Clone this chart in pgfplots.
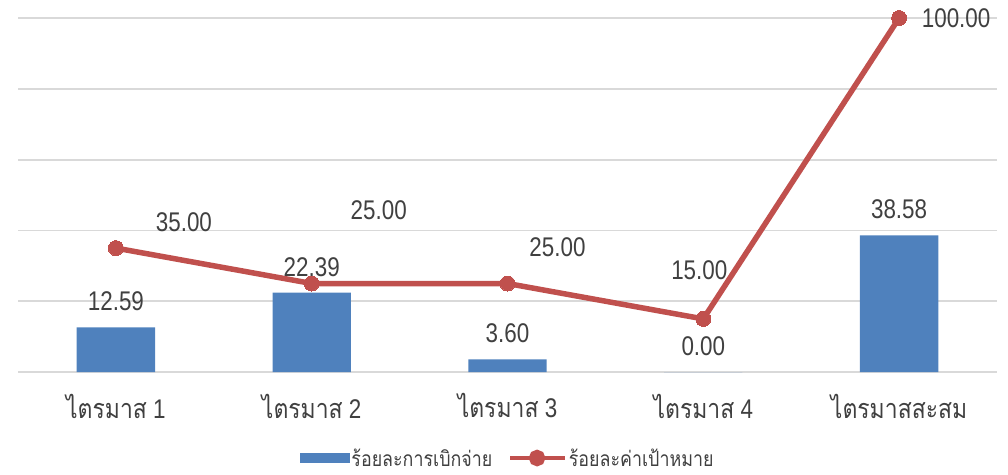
\documentclass[border=0pt]{standalone}
\usepackage{fontspec}
\setmainfont{Liberation Sans}[FakeStretch=0.83]
\newfontfamily\thaifont[Script=Thai,FakeStretch=0.85]{Loma}
\usepackage{pgfplots}
\pgfplotsset{compat=1.18}
\usepackage{pgfplotstable}
\definecolor{barblue}{HTML}{4F81BD}
\definecolor{linered}{HTML}{C0504D}
\definecolor{gridgray}{HTML}{D9D9D9}
\definecolor{txt}{HTML}{404040}
\newcommand{\numfont}{\fontsize{27}{30}\selectfont}
\pgfplotstableread{
x y
0 12.59
1 22.39
2 3.60
3 0.00
4 38.58
}\bartable
\pgfplotstableread{
x y dx dy
0 35 68 26
1 25 67 73
2 25 50 36
3 15 -4 49
4 100 57 0
}\linetable
\begin{document}
\begin{tikzpicture}
\begin{axis}[
  scale only axis, width=979pt, height=354pt,
  xmin=-0.5, xmax=4.5, ymin=0, ymax=100,
  ytick={0,20,...,100}, yticklabels={},
  ymajorgrids, grid style={gridgray, line width=1.8pt},
  axis line style={draw=none},
  major tick length=0pt,
  xtick={0,1,2,3,4},
  xticklabels={{\thaifont ไตรมาส} 1,{\thaifont ไตรมาส} 2,{\thaifont ไตรมาส} 3,{\thaifont ไตรมาส} 4,{\thaifont ไตรมาสสะสม}},
  xticklabel style={font=\numfont, text=txt, anchor=center, yshift=-34pt},
  clip=false,
  legend style={at={(0.5,-0.243)}, anchor=center, draw=none, fill=none,
    legend columns=2, font=\fontsize{21}{23}\selectfont\thaifont, text=txt,
    /tikz/every even column/.append style={column sep=14pt},
    nodes={inner sep=1.5pt}},
]
\addplot[ybar, bar width=0.4, fill=barblue, draw=none,
  nodes near coords={\pgfmathprintnumber[fixed,zerofill,precision=2,assume math mode=true]{\pgfplotspointmeta}},
  nodes near coords style={font=\numfont, text=txt, anchor=center, yshift=26pt},
  legend image code/.code={\fill[barblue] (0pt,-5pt) rectangle (50pt,5pt);}
] table[x=x,y=y] {\bartable};
\addlegendentry{ร้อยละการเบิกจ่าย}
\addplot[linered, line width=5.5pt, mark=*, mark size=7.5pt,
  mark options={fill=linered, draw=linered, line width=0pt},
  visualization depends on={\thisrow{dx} \as \dx},
  visualization depends on={\thisrow{dy} \as \dy},
  nodes near coords={\pgfmathprintnumber[fixed,zerofill,precision=2,assume math mode=true]{\pgfplotspointmeta}},
  nodes near coords style={font=\numfont, text=txt, anchor=center, xshift=\dx pt, yshift=\dy pt},
  legend image code/.code={\draw[linered, line width=4.5pt] (0pt,0pt) -- (55pt,0pt); \fill[linered] (27pt,0pt) circle (5.5pt);}
] table[x=x,y=y] {\linetable};
\addlegendentry{ร้อยละค่าเป้าหมาย}
\end{axis}
\path ([shift={(-18pt,-102pt)}]current axis.south west) rectangle ([shift={(11pt,18pt)}]current axis.north east);
\end{tikzpicture}
\end{document}
